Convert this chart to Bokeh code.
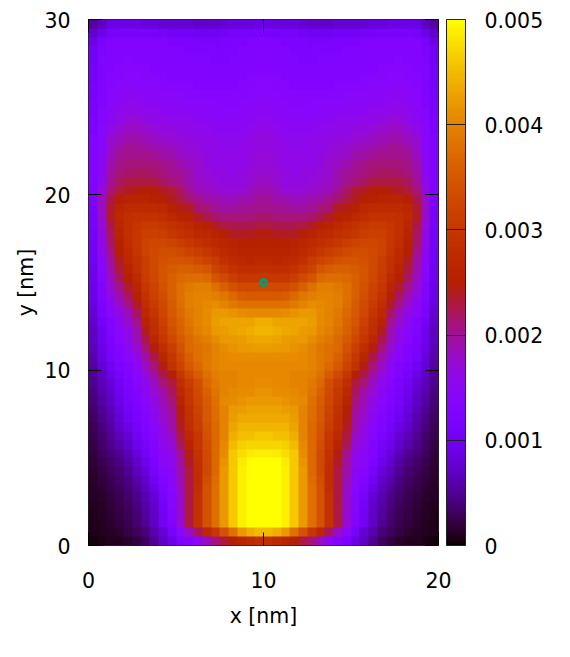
import math
import numpy as np
from bokeh.plotting import figure
from bokeh.embed import file_html
from bokeh.resources import INLINE
from bokeh.models import LinearColorMapper, ColorBar, FixedTicker, LinearAxis, Range1d

# Left half of the map, x = 0..10 nm, bottom row first, in units of 1e-4.
# The picture is symmetric about x = 10 nm, so the right half mirrors it.
z_left = [
[.5,.7,1,1,1.5,2,3,5,7,9,12,13,15,18,21,23,25,26,27,28],
[.8,1,1.3,1.6,2.2,3,4,6,8,11,14,18,22,27,30,34,38,42,44,45],
[.8,1.1,1.5,2,2.7,3.6,5,7,10,13,17,23,29,34,38,42,46,49,50,50],
[.9,1.2,1.7,2.2,2.9,3.9,5.3,7.2,10.2,13.2,17,23,29,34,38,42,46,49,50,50],
[1,1.3,1.9,2.4,3.1,4.2,5.7,7.5,10.5,13.5,17.5,23,29,34,38,42,46,49,50,50],
[1.2,1.5,2.1,2.7,3.4,4.6,6.1,8,11,13.5,17.5,23,29,34,38,42,46,49,50,50],
[1.3,1.7,2.4,3,3.8,5.2,6.8,9,12,14,18,23,28.5,34,38,42,46,49,50,50],
[1.4,2,2.7,3.4,4.3,5.9,7.5,10,12.5,14.5,18.5,23,28,33.5,37.5,42,46,49,50,50],
[1.6,2.3,3,3.8,5,6.8,8.5,11,13.5,15,19,23,28,33,37,42,46,49,50,50],
[1.8,2.6,3.5,4.4,5.6,7.4,9.5,12,14.5,15.5,19.5,24,28.5,33,37,41.5,46,48.5,50,50],
[2,3,4,5,6.4,8.5,10.5,12.5,15,16,20,24.5,29,33,37,41,46,47.5,48.5,49],
[2.3,3.4,4.5,6,7.4,9.5,11,13,15.5,17,22,26,29.5,33.5,37,40.5,45,46.5,47,47],
[2.6,3.7,5,6.5,8,10,12,13.5,16,18,23,27,30,34,37,40,44,45.5,45.5,46],
[2.9,4,5.5,7.5,8.8,10.8,12.5,14,16.5,19,24,28,31,34.5,37,40,43,44.5,44.5,44.5],
[3.2,4.5,6,8,10,11.5,13,15,17.5,19.5,24.5,28.5,31.5,35,37.5,40,42.5,43.5,43.5,43.5],
[3.6,5,6.5,8.5,10.5,12,13.5,15.5,18,20,25,29,32,35,37.5,40,42,42.5,43,43],
[4,5.5,7,9,11,12.5,14,16,18.5,21,26,29.5,32.5,35.5,38,40.5,41,41.5,42,42],
[4.4,6,7.5,9.5,11.5,13,15,17,19.5,22,27,30,33,36,38.5,40,40.5,41,41,41.5],
[4.8,6.5,8,10,12,13.5,15.5,18,21,23,28,31,33.5,37,39,40,40,40.5,40.5,41],
[5,7,9,11,12.5,14,16.5,19.5,22.5,25,30,33,35.5,38,39.5,40,40,40.5,40.5,40.5],
[5.5,8,10,12,13,15,18,21,24.5,29,32,35,37,39,40,40.5,40.5,40.5,40.5,40.5],
[6,8.5,11,12.5,14,16,19.5,22.5,26.5,30,33,36,38,39,40,40.5,41,41,41,41],
[6.5,9,11.5,13,15,17.5,21,24.5,28,31,34,37,38,38.5,40,41,41.5,42,42,42.5],
[7,9.5,12,14,16,18.5,22.5,26.5,29.5,32.5,35,37,38.5,39.5,41,42,42,42.5,43,43.5],
[7,9.5,12.5,14,16,19,24,28,30.5,33.5,36,38,39.5,40.5,42,42.5,43,43.5,44,44.5],
[7.5,10.5,13,15,17.5,20.5,26,28.5,31.5,34.5,36.5,38.5,40,41,42.5,43,43,43,43,44],
[8,11.5,14,16,18.5,22,27,29.5,32.5,35,37,39,40,41,42,42,41.5,41,40.5,40.5],
[8.5,12,15,17.5,20.5,24,28,30.5,33,35.5,37.5,39.5,40,40.5,41,40,39,38,38,38],
[9,12.5,16,19,22,25.5,29,31.5,33.5,36,38,39.5,40,40,39.5,38.5,37,35.5,35,35],
[9,13,17,20.5,23.5,26.5,30,32,34,36,38,39,39.5,39.5,38,36,34,33,33,33],
[9.5,13.5,18,22,25,27.5,30.5,32.5,34.5,36,37,37.5,37.5,37,34.5,33,31,30,30,30],
[9.5,14,19,23,26,28.5,31,33,34.5,35.5,36,36,35.5,34.5,32,30.5,29,28,28,28.5],
[10,14.5,19.5,24,27,29,31,33,34,34.5,34.5,34,33,32,30.5,28.5,27.5,27,26.5,27],
[10,15.5,20.5,25,27.5,29.5,32,33,33.5,33.5,33,32,31,30,28.5,27.5,26.5,26,26,26],
[10.5,16,21.5,25.5,28,30,32,32.5,32.5,32,31,30,29,28,27.5,26.5,26,25.5,25.5,25.5],
[10.5,16.5,22,26,28.5,30,31.5,31.5,31,30,29,28.5,27.5,27,26,25,24,24,24,24.5],
[11,17,22.5,26.5,28.5,29.5,30.5,30.5,30,29,28,27,26,25.5,24,23,22.5,22.5,22.5,23],
[11,17.5,24,27,28.5,29,29,29,28,27,26,25.5,24,22.5,21.5,21,21,21,21,21.5],
[11.5,18,23.5,26.5,27.5,27.5,27.5,27.5,27,25.5,24.5,24,21.5,21,20,19.5,19.5,20,20,20.5],
[12,18,22.5,25,26,26,26,25.5,25,24,23,21.5,20.5,19.5,19,18.5,18.5,19,19,20],
[12.5,17,21,23,24,24.5,25,25,24,23.5,22,20,18.5,18,17.5,17,17,17,18,19],
[13,15.5,20,22,23,23,23,23,22,21,20.5,19,18,17.5,17,16.5,16.5,16.5,17.5,18],
[13,15,19.5,21,21.5,22,22,21.5,21,20.5,20,19,17.5,17,16.5,16.5,16,16.5,17,17.5],
[13,14.5,19,20.5,21,21,21,21,20.5,20,19,18,17.5,16.5,16,16,16,16,16.5,17],
[13,14.5,18,20,20.5,20.5,20.5,20,19.5,19,18,17.5,17,16.5,16,16,16,16,16.5,17],
[12.5,14,17.5,19,20,20,19.5,19,18.5,18,17.5,17,16.5,16,16,15.5,15.5,16,16,16.5],
[12.5,14,17,18,19,19,18.5,18,17.5,17,16.5,16.5,16,16,15.5,15.5,15.5,15.5,16,16.5],
[12,14,16,17,18,18,17.5,17,16.5,16.5,16,16,15.5,15.5,15,15,15,15,15.5,16],
[12,13.5,15,16,17,17,16.5,16,16,15.5,15.5,15.5,15,15,14.5,14.5,14.5,14.5,15,15.5],
[11.5,13.5,14.5,15.5,16,16,15.5,15.5,15,15,15,14.5,14.5,14.5,14,14,14,14.5,14.5,15],
[11.5,13,14,15,15.5,15.5,15,15,14.5,14.5,14.5,14,14,14,14,13.5,13.5,14,14,14.5],
[11,13,14,14.5,15,15,14.5,14.5,14,14,14,13.5,13.5,13.5,13.5,13.5,13.5,13.5,14,14],
[11,13,13.5,14,14.5,14,14,14,13.5,13.5,13.5,13.5,13,13,13,13,13,13.5,13.5,14],
[10.5,12.5,13.5,13.5,14,14,13.5,13.5,13.5,13,13,13,13,13,13,12.5,13,13,13.5,13.5],
[10.5,12.5,13,13.5,13.5,13.5,13.5,13,13,13,13,13,12.5,12.5,12.5,12.5,12.5,13,13,13],
[10,12.5,13,13,13.5,13,13,13,13,12.5,12.5,12.5,12.5,12.5,12,12,12.5,12.5,12.5,13],
[10,12,13,13,13,13,13,13,12.5,12.5,12.5,12,12,12,12,12,12,12.5,12.5,12.5],
[9,11.5,12.5,13,13,13,12.5,12.5,12.5,12,12,12,11.5,11.5,11.5,12,12,12,12.5,12.5],
[7.5,9,11,11.5,11.5,11.5,11.5,11,11,10.5,10.5,10.5,10,10,10,10.5,11,11,11,11.5],
[5.5,7,9,9,9,9,8.5,8.5,8,8,8,8,7.5,7.5,7.5,8,8.5,8.5,8.5,9],
]
x_ticks = [0, 10, 20]
y_ticks = [0, 10, 20, 30]
z_ticks = [0, 0.001, 0.002, 0.003, 0.004, 0.005]
z_labels = {0: "0", 0.001: "0.001", 0.002: "0.002", 0.003: "0.003", 0.004: "0.004", 0.005: "0.005"}
marker_x = [10]
marker_y = [15]

# gnuplot's default palette, rgbformulae 7,5,15
def pal_color(t):
    r = math.sqrt(t)
    g = t ** 3
    b = max(0.0, math.sin(2 * math.pi * t))
    return "#%02x%02x%02x" % (round(r * 255), round(g * 255), round(b * 255))

palette = [pal_color(i / 255) for i in range(256)]
mapper = LinearColorMapper(palette=palette, low=0, high=0.005)

left = np.array(z_left) * 1e-4
grid = np.hstack([left, left[:, ::-1]])

FS = "20.5px"
FONT = "DejaVu Sans"

p = figure(frame_width=350, frame_height=526, x_range=Range1d(0, 20), y_range=Range1d(0, 30),
           output_backend="svg", toolbar_location=None, min_border_left=88, min_border_top=19,
           min_border_bottom=10, min_border_right=0, x_axis_label="x [nm]", y_axis_label="y [nm]",
           background_fill_color="white", border_fill_color="white")
p.image(image=[grid], x=0, y=0, dw=20, dh=30, color_mapper=mapper)
p.scatter(marker_x, marker_y, marker="circle", size=6, fill_color=None, line_color="#009e73", line_width=3)
p.grid.visible = False
p.outline_line_color = "#222222"
p.outline_line_width = 1

for ax, tk in ((p.xaxis[0], x_ticks), (p.yaxis[0], y_ticks)):
    ax.ticker = FixedTicker(ticks=tk)
    ax.major_tick_in = 13
    ax.major_tick_out = 0
    ax.minor_tick_in = 0
    ax.minor_tick_out = 0
    ax.axis_line_color = None
    ax.major_tick_line_color = "black"
    ax.major_label_text_font = FONT
    ax.major_label_text_font_size = FS
    ax.major_label_text_color = "black"
    ax.axis_label_text_font = FONT
    ax.axis_label_text_font_size = FS
    ax.axis_label_text_font_style = "normal"
    ax.axis_label_text_color = "black"
p.xaxis[0].major_label_standoff = 26
p.xaxis[0].axis_label_standoff = 13
p.yaxis[0].major_label_standoff = 18
p.yaxis[0].axis_label_standoff = 3

for side, tk in (("above", x_ticks), ("right", y_ticks)):
    ax = LinearAxis(ticker=FixedTicker(ticks=tk))
    ax.major_tick_in = 13
    ax.major_tick_out = 0
    ax.minor_tick_in = 0
    ax.minor_tick_out = 0
    ax.axis_line_color = None
    ax.major_tick_line_color = "black"
    ax.major_label_text_font_size = "0px"
    ax.major_label_text_color = None
    ax.major_label_standoff = 0
    p.add_layout(ax, side)

# an axis with nothing visible, only to hold the gap between frame and colour bar
gap_axis = LinearAxis(ticker=FixedTicker(ticks=y_ticks), major_tick_in=0, major_tick_out=8,
                      minor_tick_in=0, minor_tick_out=0, axis_line_color=None,
                      major_tick_line_color=None, minor_tick_line_color=None,
                      major_label_text_font_size="0px", major_label_text_color=None,
                      major_label_standoff=0)
p.add_layout(gap_axis, "right")

cb = ColorBar(color_mapper=mapper, ticker=FixedTicker(ticks=z_ticks), major_label_overrides=z_labels,
              width=19, height=526, padding=0, margin=8, label_standoff=19,
              major_tick_in=19, major_tick_line_color="#222222", minor_tick_line_color=None,
              bar_line_color="#222222", bar_line_width=1, major_label_text_font=FONT,
              major_label_text_font_size=FS, major_label_text_color="black", background_fill_color=None,
              border_line_color=None)
p.add_layout(cb, "right")

open("out.html", "w").write(file_html(p, INLINE))
